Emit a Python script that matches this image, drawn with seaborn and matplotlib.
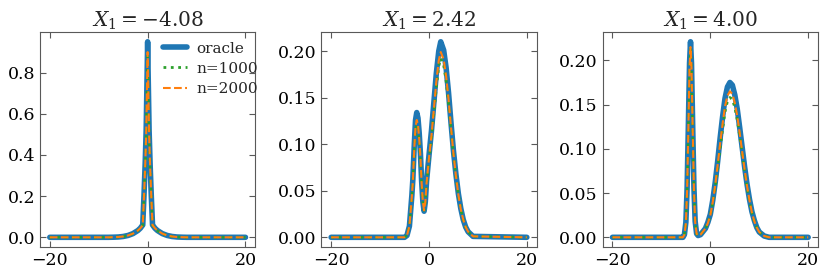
import numpy as np
import seaborn as sns
import matplotlib
matplotlib.use('Agg')
import matplotlib.pyplot as plt

sns.set_style('ticks', {'xtick.direction': 'in', 'ytick.direction': 'in'})
plt.rcParams['font.family'] = ['DejaVu Serif']
plt.rcParams['mathtext.fontset'] = 'dejavuserif'
plt.rcParams['axes.edgecolor'] = '0.35'
plt.rcParams['xtick.color'] = '0.35'
plt.rcParams['ytick.color'] = '0.35'
plt.rcParams['xtick.labelcolor'] = 'black'
plt.rcParams['ytick.labelcolor'] = 'black'

# panel titles (value of X_1)
titles = [r'$X_1 = -4.08$', r'$X_1 = 2.42$', r'$X_1 = 4.00$']
series_names = ['oracle', 'n=1000', 'n=2000']

# Panel 1: X_1 = -4.08
x1 = [-20, -8, -7, -6, -5, -4, -3, -2, -1.5, -1.0, -0.75, -0.5, -0.3, -0.1, 0,
      0.1, 0.3, 0.5, 0.75, 1.0, 1.5, 2, 3, 4, 5, 6, 7, 8, 20]
oracle1 = [0, 0, 0.0005, 0.0015, 0.004, 0.009, 0.018, 0.033, 0.044, 0.06, 0.2, 0.36, 0.52, 0.8, 0.95,
           0.8, 0.52, 0.36, 0.2, 0.06, 0.044, 0.033, 0.018, 0.009, 0.004, 0.0015, 0.0005, 0, 0]
n1000_1 = [0, 0, 0.0005, 0.0015, 0.004, 0.009, 0.018, 0.032, 0.043, 0.058, 0.19, 0.34, 0.49, 0.75, 0.88,
           0.75, 0.49, 0.34, 0.19, 0.058, 0.043, 0.032, 0.018, 0.009, 0.004, 0.0015, 0.0005, 0, 0]
n2000_1 = [0, 0, 0.0005, 0.0015, 0.004, 0.009, 0.018, 0.033, 0.044, 0.059, 0.195, 0.35, 0.5, 0.77, 0.90,
           0.77, 0.5, 0.35, 0.195, 0.059, 0.044, 0.033, 0.018, 0.009, 0.004, 0.0015, 0.0005, 0, 0]

# Panel 2: X_1 = 2.42
x2 = [-20, -5, -4.5, -4, -3.5, -3.3, -3, -2.75, -2.5, -2.25, -2, -1.75, -1.5, -1.25, -1, -0.75, -0.5, 0,
      0.5, 1, 1.5, 2, 2.4, 3, 3.5, 4, 4.5, 5, 5.5, 6, 6.5, 7, 7.5, 8, 9, 20]
oracle2 = [0, 0, 0.002, 0.012, 0.045, 0.062, 0.1, 0.126, 0.134, 0.128, 0.112, 0.09, 0.06, 0.038, 0.028,
           0.038, 0.06, 0.088, 0.114, 0.145, 0.176, 0.2, 0.21, 0.201, 0.182, 0.155, 0.123, 0.093, 0.068,
           0.047, 0.031, 0.019, 0.011, 0.006, 0.001, 0]
n1000_2 = [0, 0, 0.002, 0.012, 0.043, 0.059, 0.093, 0.115, 0.121, 0.117, 0.103, 0.084, 0.057, 0.038, 0.029,
           0.038, 0.057, 0.083, 0.106, 0.134, 0.161, 0.184, 0.192, 0.185, 0.168, 0.144, 0.116, 0.089, 0.066,
           0.046, 0.03, 0.019, 0.011, 0.006, 0.001, 0]
n2000_2 = [0, 0, 0.002, 0.012, 0.044, 0.06, 0.096, 0.119, 0.126, 0.121, 0.106, 0.086, 0.058, 0.038, 0.029,
           0.038, 0.058, 0.085, 0.109, 0.138, 0.167, 0.19, 0.199, 0.191, 0.173, 0.148, 0.118, 0.09, 0.066,
           0.046, 0.03, 0.019, 0.011, 0.006, 0.001, 0]

# Panel 3: X_1 = 4.00
x3 = [-20, -5.6, -5.3, -5.0, -4.75, -4.5, -4.25, -4.05, -3.85, -3.6, -3.35, -3.1, -2.8, -2.5, -2, -1, -0.5,
      0, 0.5, 1, 1.5, 2, 2.5, 3, 3.5, 4, 4.5, 5, 5.5, 6, 6.5, 7, 7.5, 8, 8.5, 9, 9.5, 10, 11, 12, 20]
oracle3 = [0, 0, 0.003, 0.017, 0.055, 0.124, 0.197, 0.221, 0.197, 0.124, 0.056, 0.018, 0.004, 0.002, 0.003,
           0.01, 0.017, 0.026, 0.042, 0.062, 0.086, 0.112, 0.136, 0.157, 0.17, 0.175, 0.172, 0.161, 0.145,
           0.124, 0.102, 0.08, 0.06, 0.043, 0.029, 0.019, 0.011, 0.006, 0.0015, 0, 0]
n1000_3 = [0, 0, 0.003, 0.016, 0.052, 0.118, 0.189, 0.212, 0.189, 0.118, 0.053, 0.017, 0.004, 0.002, 0.003,
           0.01, 0.016, 0.025, 0.039, 0.057, 0.078, 0.101, 0.122, 0.142, 0.154, 0.158, 0.156, 0.147, 0.133,
           0.115, 0.095, 0.075, 0.057, 0.041, 0.028, 0.018, 0.011, 0.006, 0.0015, 0, 0]
n2000_3 = [0, 0, 0.003, 0.016, 0.053, 0.12, 0.191, 0.215, 0.191, 0.12, 0.054, 0.017, 0.004, 0.002, 0.003,
           0.01, 0.016, 0.025, 0.04, 0.059, 0.082, 0.106, 0.128, 0.148, 0.16, 0.165, 0.162, 0.152, 0.137,
           0.118, 0.097, 0.077, 0.058, 0.042, 0.028, 0.018, 0.011, 0.006, 0.0015, 0, 0]

panels = [
    (x1, oracle1, n1000_1, n2000_1),
    (x2, oracle2, n1000_2, n2000_2),
    (x3, oracle3, n1000_3, n2000_3),
]

fig, axes = plt.subplots(1, 3, figsize=(8.3, 2.77), dpi=100)
fig.subplots_adjust(left=0.0482, right=0.9855, bottom=0.108, top=0.8845, wspace=0.307)

for i, (ax, (x, yo, y1, y2)) in enumerate(zip(axes, panels)):
    sns.lineplot(x=x, y=yo, ax=ax, color='#1f77b4', lw=4, label=series_names[0])
    sns.lineplot(x=x, y=y1, ax=ax, color='#2ca02c', lw=2, ls=':', label=series_names[1])
    sns.lineplot(x=x, y=y2, ax=ax, color='#ff7f0e', lw=1.5, ls='--', label=series_names[2])
    ax.set_title(titles[i], fontsize=14.5, pad=4)
    ax.set_xticks([-20, 0, 20])
    ax.tick_params(labelsize=12.5, top=True, right=True, length=4)
    if i == 0:
        # legend sits top right, text running just past the frame
        ax.legend(loc='upper right', bbox_to_anchor=(1.014, 0.955), frameon=False, fontsize=11,
                  borderpad=0, borderaxespad=0, handlelength=1.6, labelspacing=0.4, handletextpad=0.6)
    else:
        ax.get_legend().remove()

plt.savefig('out.png')
print('Saved out.png')
plt.close()
